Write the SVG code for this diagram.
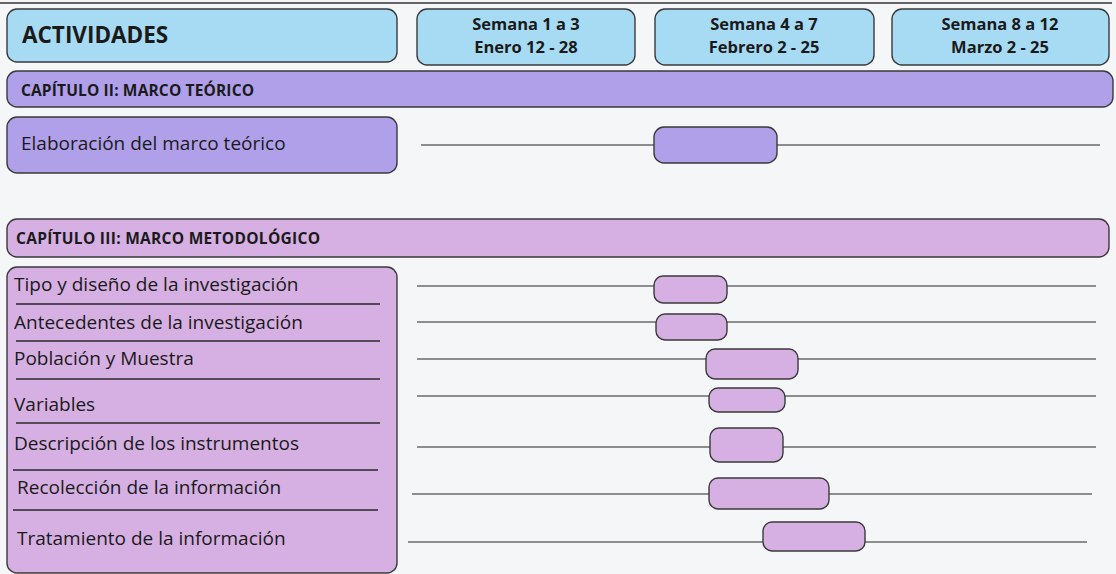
<svg xmlns="http://www.w3.org/2000/svg" width="1116" height="574" viewBox="0 0 1116 574">
<style>
.box{stroke:#3a3a3a;stroke-width:1.4}
.blue{fill:#a7dbf4}
.p1{fill:#b0a0ea}
.p2{fill:#d6b0e2}
.h{font-family:"Open Sans","Liberation Sans",sans-serif;font-weight:700;fill:#1a1a1a}
.t{font-family:"Open Sans","Liberation Sans",sans-serif;font-size:19px;fill:#1a1a1a}
.track{stroke:#6a6a6a;stroke-width:1.5;fill:none}
.div{stroke:#2a2a2a;stroke-width:1.3}
</style>
<rect width="1116" height="574" fill="#f5f6f8"/>
<line x1="0" y1="3" x2="1112" y2="3" stroke="#333" stroke-width="1.3"/>
<g id="header-actividades">
<rect class="box blue" x="7" y="9" width="390" height="53" rx="10"/>
<text class="h" x="22" y="43" font-size="22.5">ACTIVIDADES</text>
</g>
<g id="header-semana1">
<rect class="box blue" x="417" y="9" width="218" height="56" rx="10"/>
<text class="h" x="526" y="30" font-size="16.5" text-anchor="middle">Semana 1 a 3</text>
<text class="h" x="526" y="53" font-size="16.5" text-anchor="middle">Enero 12 - 28</text>
</g>
<g id="header-semana2">
<rect class="box blue" x="655" y="9" width="219" height="56" rx="10"/>
<text class="h" x="764" y="30" font-size="16.5" text-anchor="middle">Semana 4 a 7</text>
<text class="h" x="764" y="53" font-size="16.5" text-anchor="middle">Febrero 2 - 25</text>
</g>
<g id="header-semana3">
<rect class="box blue" x="892" y="9" width="217" height="56" rx="10"/>
<text class="h" x="1000" y="30" font-size="16.5" text-anchor="middle">Semana 8 a 12</text>
<text class="h" x="1000" y="53" font-size="16.5" text-anchor="middle">Marzo 2 - 25</text>
</g>
<g id="cap2">
<rect class="box p1" x="7" y="71" width="1106" height="36" rx="10"/>
<text class="h" x="21" y="96" font-size="15.5" textLength="233">CAPÍTULO II: MARCO TEÓRICO</text>
</g>
<g id="elaboracion">
<rect class="box p1" x="7" y="117" width="390" height="56" rx="10"/>
<text class="t" x="21" y="150">Elaboración del marco teórico</text>
</g>
<g id="cap3">
<rect class="box p2" x="7" y="219" width="1102" height="38" rx="10"/>
<text class="h" x="16" y="244" font-size="15.5" textLength="304">CAPÍTULO  III: MARCO METODOLÓGICO</text>
</g>
<g id="metodologia-list">
<rect class="box p2" x="7" y="267" width="390" height="306" rx="10"/>
<line class="div" x1="16" y1="304" x2="380" y2="304"/>
<line class="div" x1="16" y1="341" x2="380" y2="341"/>
<line class="div" x1="16" y1="379" x2="380" y2="379"/>
<line class="div" x1="16" y1="423" x2="380" y2="423"/>
<line class="div" x1="13" y1="470" x2="378" y2="470"/>
<line class="div" x1="13" y1="510" x2="378" y2="510"/>
<text class="t" x="14" y="291">Tipo y diseño de la investigación</text>
<text class="t" x="14" y="329">Antecedentes de la investigación</text>
<text class="t" x="14" y="365">Población y Muestra</text>
<text class="t" x="14" y="411">Variables</text>
<text class="t" x="14" y="450">Descripción de los instrumentos</text>
<text class="t" x="17" y="494">Recolección de la información</text>
<text class="t" x="17" y="545">Tratamiento de la información</text>
</g>
<g id="connectors">
<line class="track" x1="421" y1="145" x2="1100" y2="145"/>
<line class="track" x1="417" y1="286" x2="1096" y2="286"/>
<line class="track" x1="417" y1="322" x2="1096" y2="322"/>
<line class="track" x1="417" y1="359" x2="1096" y2="359"/>
<line class="track" x1="417" y1="396" x2="1096" y2="396"/>
<line class="track" x1="417" y1="447" x2="1096" y2="447"/>
<line class="track" x1="412" y1="494" x2="1092" y2="494"/>
<line class="track" x1="408" y1="542" x2="1087" y2="542"/>
</g>
<g id="bar-elaboracion"><rect class="box p1" x="654" y="127" width="123" height="36" rx="10"/></g>
<g id="bar-tipo"><rect class="box p2" x="654" y="276" width="73" height="27" rx="9"/></g>
<g id="bar-antecedentes"><rect class="box p2" x="656" y="314" width="71" height="26" rx="9"/></g>
<g id="bar-poblacion"><rect class="box p2" x="706" y="349" width="92" height="30" rx="9"/></g>
<g id="bar-variables"><rect class="box p2" x="709" y="388" width="76" height="24" rx="9"/></g>
<g id="bar-descripcion"><rect class="box p2" x="710" y="428" width="73" height="34" rx="9"/></g>
<g id="bar-recoleccion"><rect class="box p2" x="709" y="478" width="120" height="31" rx="9"/></g>
<g id="bar-tratamiento"><rect class="box p2" x="763" y="522" width="102" height="29" rx="9"/></g>
</svg>
